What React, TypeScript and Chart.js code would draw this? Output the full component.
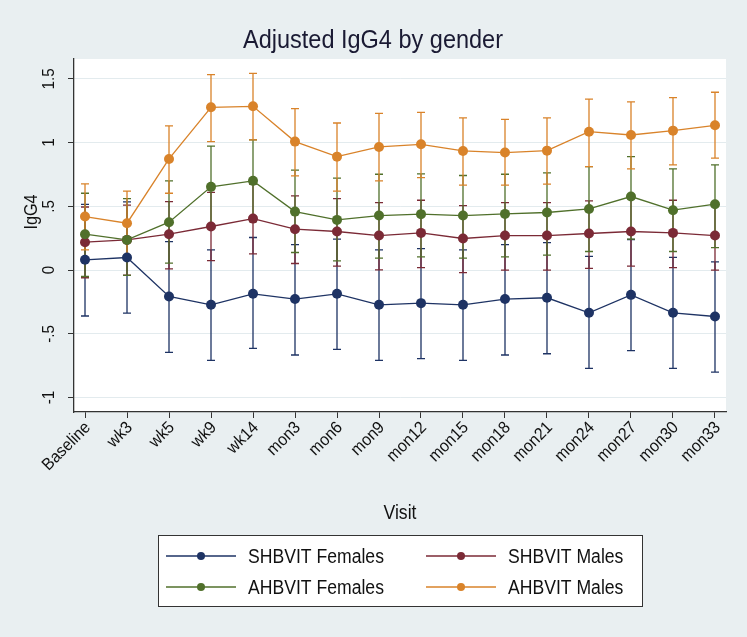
import React, { useEffect, useRef } from "react";
import { Chart, registerables } from "chart.js";

Chart.register(...registerables);

const visits = ["Baseline", "wk3", "wk5", "wk9", "wk14", "mon3", "mon6", "mon9", "mon12", "mon15", "mon18", "mon21", "mon24", "mon27", "mon30", "mon33"];
const yTickValues = [-1, -0.5, 0, 0.5, 1, 1.5];
const yTickLabels = ["-1", "-.5", "0", ".5", "1", "1.5"];

const seriesNames = ["SHBVIT Females", "SHBVIT Males", "AHBVIT Females", "AHBVIT Males"];

const shbFemMean = [0.081, 0.099, -0.207, -0.272, -0.186, -0.227, -0.186, -0.272, -0.259, -0.272, -0.227, -0.217, -0.335, -0.194, -0.335, -0.364];
const shbFemLow = [-0.36, -0.337, -0.646, -0.708, -0.614, -0.666, -0.622, -0.708, -0.695, -0.708, -0.666, -0.656, -0.771, -0.632, -0.771, -0.8];
const shbFemHigh = [0.515, 0.535, 0.224, 0.159, 0.256, 0.2, 0.243, 0.159, 0.169, 0.159, 0.2, 0.216, 0.107, 0.24, 0.1, 0.065];

const shbMaleMean = [0.219, 0.237, 0.282, 0.342, 0.404, 0.321, 0.303, 0.271, 0.292, 0.248, 0.271, 0.271, 0.287, 0.303, 0.292, 0.271];
const shbMaleLow = [-0.06, -0.04, 0.01, 0.075, 0.128, 0.052, 0.031, 0.002, 0.02, -0.019, 0.0, 0.0, 0.013, 0.031, 0.02, 0.0];
const shbMaleHigh = [0.495, 0.51, 0.538, 0.61, 0.675, 0.582, 0.561, 0.53, 0.548, 0.506, 0.53, 0.53, 0.543, 0.561, 0.548, 0.53];

const ahbFemMean = [0.282, 0.237, 0.376, 0.653, 0.7, 0.459, 0.394, 0.428, 0.439, 0.428, 0.441, 0.452, 0.48, 0.577, 0.47, 0.517];
const ahbFemLow = [-0.05, -0.042, 0.055, 0.33, 0.38, 0.138, 0.073, 0.094, 0.104, 0.094, 0.104, 0.117, 0.146, 0.243, 0.146, 0.177];
const ahbFemHigh = [0.603, 0.56, 0.7, 0.972, 1.021, 0.784, 0.721, 0.752, 0.755, 0.742, 0.752, 0.763, 0.812, 0.89, 0.794, 0.825];

const ahbMaleMean = [0.42, 0.368, 0.872, 1.277, 1.285, 1.008, 0.89, 0.966, 0.987, 0.935, 0.922, 0.937, 1.086, 1.06, 1.094, 1.136];
const ahbMaleLow = [0.159, 0.116, 0.603, 1.008, 1.021, 0.739, 0.62, 0.7, 0.726, 0.666, 0.666, 0.675, 0.812, 0.794, 0.825, 0.878];
const ahbMaleHigh = [0.676, 0.62, 1.131, 1.533, 1.544, 1.267, 1.154, 1.23, 1.238, 1.194, 1.183, 1.194, 1.342, 1.319, 1.353, 1.395];

const colors = ["#1e3364", "#7b2a36", "#50702b", "#d9832a"];

const FONT = '"Liberation Sans", Arial, sans-serif';
const BG = "#e9eff1";

function drawText(ctx: CanvasRenderingContext2D, text: string, x: number, y: number, size: number, align: CanvasTextAlign, baseline: CanvasTextBaseline, rot = 0, color = "#111", sx = 1) {
  ctx.save();
  ctx.translate(x, y);
  ctx.rotate(rot);
  ctx.scale(sx, 1);
  ctx.font = `${size}px ${FONT}`;
  ctx.fillStyle = color;
  ctx.textAlign = align;
  ctx.textBaseline = baseline;
  ctx.fillText(text, 0, 0);
  ctx.restore();
}

export default function App() {
  const ref = useRef<HTMLCanvasElement | null>(null);

  useEffect(() => {
    if (!ref.current) return;
    const means = [shbFemMean, shbMaleMean, ahbFemMean, ahbMaleMean];
    const lows = [shbFemLow, shbMaleLow, ahbFemLow, ahbMaleLow];
    const highs = [shbFemHigh, shbMaleHigh, ahbFemHigh, ahbMaleHigh];

    const bgPlugin = {
      id: "bg",
      beforeDraw(chart: any) {
        const { ctx, chartArea: a } = chart;
        ctx.save();
        ctx.fillStyle = BG;
        ctx.fillRect(0, 0, chart.width, chart.height);
        ctx.fillStyle = "#ffffff";
        ctx.fillRect(a.left, a.top, a.right - a.left, a.bottom - a.top);
        ctx.restore();
      },
    };

    const errPlugin = {
      id: "errbars",
      beforeDatasetsDraw(chart: any) {
        const { ctx, scales } = chart;
        const xs = scales.x, ys = scales.y;
        ctx.save();
        ctx.lineWidth = 1.3;
        for (let s = 0; s < means.length; s++) {
          ctx.strokeStyle = colors[s];
          for (let i = 0; i < visits.length; i++) {
            const x = xs.getPixelForValue(i);
            const yl = ys.getPixelForValue(lows[s][i]);
            const yh = ys.getPixelForValue(highs[s][i]);
            ctx.beginPath();
            ctx.moveTo(x, yl);
            ctx.lineTo(x, yh);
            ctx.moveTo(x - 4, yl);
            ctx.lineTo(x + 4, yl);
            ctx.moveTo(x - 4, yh);
            ctx.lineTo(x + 4, yh);
            ctx.stroke();
          }
        }
        ctx.restore();
      },
    };

    const textPlugin = {
      id: "texts",
      afterDraw(chart: any) {
        const { ctx, scales } = chart;
        const xs = scales.x, ys = scales.y;
        drawText(ctx, "Adjusted IgG4 by gender", 373, 48, 25, "center", "alphabetic", 0, "#1a1a33", 0.94);
        yTickValues.forEach((v, i) => {
          drawText(ctx, yTickLabels[i], 54, ys.getPixelForValue(v), 16, "center", "alphabetic", -Math.PI / 2, "#111", 0.95);
        });
        drawText(ctx, "IgG4", 37, 212, 18, "center", "alphabetic", -Math.PI / 2, "#111", 0.9);
        visits.forEach((v, i) => {
          drawText(ctx, v, xs.getPixelForValue(i) + 3, 425, 17, "right", "middle", -Math.PI / 4, "#111", 0.93);
        });
        drawText(ctx, "Visit", 400, 519, 20, "center", "alphabetic", 0, "#111", 0.88);
        // legend
        ctx.save();
        ctx.fillStyle = "#ffffff";
        ctx.fillRect(158.5, 535.5, 484, 71);
        ctx.strokeStyle = "#333333";
        ctx.lineWidth = 1;
        ctx.strokeRect(158.5, 535.5, 484, 71);
        ctx.restore();
        const pos = [
          [166, 556],
          [426, 556],
          [166, 587],
          [426, 587],
        ];
        pos.forEach((p, s) => {
          const [lx, ly] = p;
          ctx.save();
          ctx.strokeStyle = colors[s];
          ctx.lineWidth = 1.3;
          ctx.beginPath();
          ctx.moveTo(lx, ly);
          ctx.lineTo(lx + 70, ly);
          ctx.stroke();
          ctx.fillStyle = colors[s];
          ctx.beginPath();
          ctx.arc(lx + 35, ly, 4, 0, Math.PI * 2);
          ctx.fill();
          ctx.restore();
          drawText(ctx, seriesNames[s], lx + 82, ly + 1, 20, "left", "middle", 0, "#111", 0.88);
        });
      },
    };

    const chart = new Chart(ref.current, {
      type: "line",
      data: {
        datasets: means.map((m, s) => ({
          label: seriesNames[s],
          data: m.map((v, i) => ({ x: i, y: v })),
          borderColor: colors[s],
          backgroundColor: colors[s],
          pointBackgroundColor: colors[s],
          pointBorderColor: colors[s],
          pointRadius: 5,
          pointBorderWidth: 0,
          borderWidth: 1.3,
          tension: 0,
          order: 4 - s,
        })),
      },
      options: {
        responsive: false,
        animation: false,
        devicePixelRatio: 1,
        layout: { padding: { top: 59, right: 21, left: 0, bottom: 0 } },
        plugins: { legend: { display: false }, title: { display: false }, tooltip: { enabled: false } },
        scales: {
          x: {
            type: "linear",
            min: -0.262,
            max: 15.262,
            afterBuildTicks: (s: any) => {
              s.ticks = visits.map((_, i) => ({ value: i }));
            },
            afterFit: (s: any) => {
              s.height = 225;
            },
            ticks: { display: false },
            grid: { drawOnChartArea: false, drawTicks: true, tickLength: 6, color: "#333333", lineWidth: 1 },
            border: { display: true, color: "#333333", width: 1.3 },
          },
          y: {
            type: "linear",
            min: -1.113,
            max: 1.656,
            afterBuildTicks: (s: any) => {
              s.ticks = yTickValues.map((v) => ({ value: v }));
            },
            afterFit: (s: any) => {
              s.width = 74;
            },
            ticks: { display: false },
            grid: { drawOnChartArea: true, drawTicks: true, tickLength: 6, color: "#e3ebee", tickColor: "#333333", lineWidth: 1 },
            border: { display: true, color: "#333333", width: 1.3 },
          },
        },
      } as any,
      plugins: [bgPlugin, errPlugin, textPlugin],
    });
    return () => chart.destroy();
  }, []);

  return (
    <div style={{ position: "fixed", left: 0, top: 0, width: 747, height: 637 }}>
      <canvas ref={ref} width={747} height={637} style={{ width: 747, height: 637, display: "block" }} />
    </div>
  );
}
